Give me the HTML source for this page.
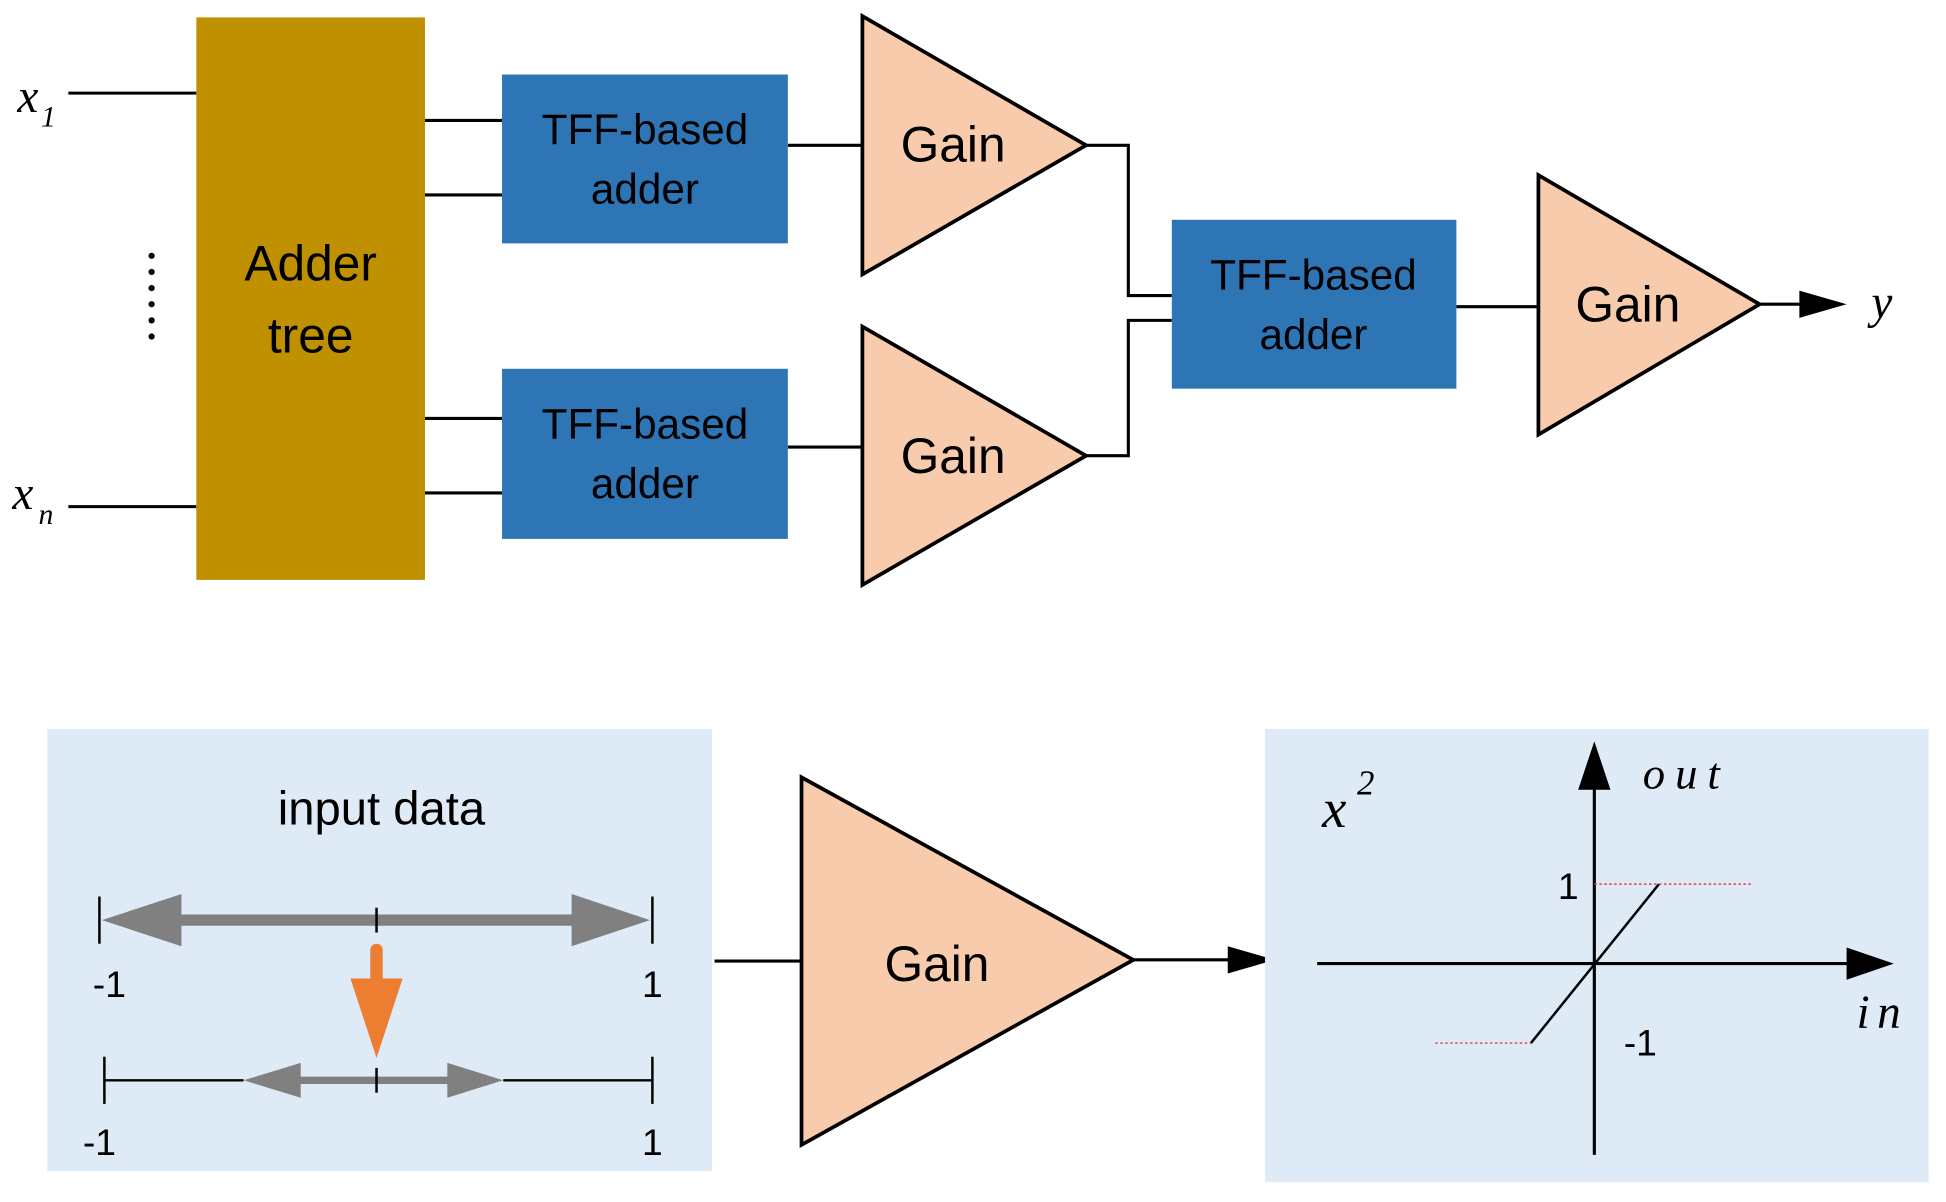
<!DOCTYPE html>
<html><head><meta charset="utf-8"><style>
html,body{margin:0;padding:0;background:#fff}
svg{display:block}
text{font-family:"Liberation Sans",sans-serif}
.s{font-family:"Liberation Serif",serif;font-style:italic}
</style></head><body>
<svg width="1946" height="1202" viewBox="0 0 1566 968" preserveAspectRatio="none" xmlns="http://www.w3.org/2000/svg">
<g stroke="#000" stroke-width="2.5" fill="none">
<line x1="55" y1="75" x2="158" y2="75"/>
<line x1="55" y1="408" x2="158" y2="408"/>
<line x1="342" y1="97" x2="404" y2="97"/>
<line x1="342" y1="157" x2="404" y2="157"/>
<line x1="342" y1="337" x2="404" y2="337"/>
<line x1="342" y1="397" x2="404" y2="397"/>
<line x1="634" y1="117" x2="694" y2="117"/>
<line x1="634" y1="360" x2="694" y2="360"/>
<polyline points="874,117 908,117 908,238 943,238"/>
<polyline points="874,367 908,367 908,258 943,258"/>
<line x1="1172" y1="247" x2="1238" y2="247"/>
<line x1="1416" y1="245" x2="1450" y2="245"/>
</g>
<polygon points="1448,234 1486,245 1448,256" fill="#000"/>
<g fill="#000">
<circle cx="122" cy="206" r="2.5"/><circle cx="122" cy="219" r="2.5"/><circle cx="122" cy="232" r="2.5"/><circle cx="122" cy="245" r="2.5"/><circle cx="122" cy="258" r="2.5"/><circle cx="122" cy="271" r="2.5"/>
</g>
<text x="14" y="90" class="s" font-size="38">x</text><text x="33" y="102" class="s" font-size="24">1</text>
<text x="10" y="410" class="s" font-size="38">x</text><text x="31" y="422" class="s" font-size="24">n</text>
<rect x="158" y="14" width="184" height="453" fill="#BF9000"/>
<text x="250" y="226" font-size="40" text-anchor="middle">Adder</text>
<text x="250" y="284" font-size="40" text-anchor="middle">tree</text>
<g fill="#2E75B6">
<rect x="404" y="60" width="230" height="136"/>
<rect x="404" y="297" width="230" height="137"/>
<rect x="943" y="177" width="229" height="136"/>
</g>
<g font-size="34" text-anchor="middle" fill="#000">
<text x="519" y="116">TFF-based</text><text x="519" y="164">adder</text>
<text x="519" y="353">TFF-based</text><text x="519" y="401">adder</text>
<text x="1057" y="233">TFF-based</text><text x="1057" y="281">adder</text>
</g>
<g fill="#F8CBAD" stroke="#000" stroke-width="3">
<polygon points="694,13 694,221 874,117"/>
<polygon points="694,263 694,471 874,367"/>
<polygon points="1238,141 1238,350 1416,245"/>
<polygon points="645,626 645,922 912,773"/>
</g>
<g font-size="40" text-anchor="middle" fill="#000">
<text x="767" y="130">Gain</text>
<text x="767" y="381">Gain</text>
<text x="1310" y="259">Gain</text>
<text x="754" y="790">Gain</text>
</g>
<text x="1506" y="256" class="s" font-size="38">y</text>
<rect x="38" y="587" width="535" height="356" fill="#DEEBF7"/>
<text x="307" y="664" font-size="38" text-anchor="middle">input data</text>
<g stroke="#808080" fill="#808080">
<line x1="130" y1="741" x2="475" y2="741" stroke-width="9"/>
<polygon points="82,741 146,720 146,762" stroke="none"/>
<polygon points="523,741 460,720 460,762" stroke="none"/>
<line x1="230" y1="870" x2="375" y2="870" stroke-width="6"/>
<polygon points="196,870 242,856 242,884" stroke="none"/>
<polygon points="405,870 360,856 360,884" stroke="none"/>
</g>
<g stroke="#000" stroke-width="2">
<line x1="80" y1="722" x2="80" y2="760"/><line x1="525" y1="722" x2="525" y2="760"/><line x1="303" y1="731" x2="303" y2="751"/>
<line x1="84" y1="870" x2="196" y2="870"/><line x1="405" y1="870" x2="525" y2="870"/>
<line x1="84" y1="851" x2="84" y2="889"/><line x1="525" y1="851" x2="525" y2="889"/><line x1="303" y1="860" x2="303" y2="880"/>
</g>
<line x1="303" y1="765" x2="303" y2="795" stroke="#ED7D31" stroke-width="10" stroke-linecap="round"/>
<polygon points="282,788 324,788 303,852" fill="#ED7D31"/>
<g font-size="30" fill="#000" text-anchor="middle">
<text x="88" y="803">-1</text><text x="525" y="803">1</text>
<text x="80" y="930">-1</text><text x="525" y="930">1</text>
</g>
<line x1="575" y1="774" x2="645" y2="774" stroke="#000" stroke-width="2.5"/>
<line x1="912" y1="773" x2="990" y2="773" stroke="#000" stroke-width="2.5"/>
<polygon points="988,762 1026,773 988,784" fill="#000"/>
<rect x="1018" y="587" width="534" height="365" fill="#DEEBF7"/>
<text x="1064" y="666" class="s" font-size="44">x</text><text x="1092" y="640" class="s" font-size="28">2</text>
<g stroke="#000" stroke-width="2.5">
<line x1="1283" y1="930" x2="1283" y2="630"/>
<line x1="1060" y1="776" x2="1490" y2="776"/>
<line x1="1232" y1="840" x2="1335" y2="712" stroke-width="2"/>
</g>
<polygon points="1270,636 1283,597 1296,636" fill="#000"/>
<polygon points="1486,763 1524,776 1486,789" fill="#000"/>
<g stroke="#e04040" stroke-width="1.2" stroke-dasharray="2,2">
<line x1="1283" y1="712" x2="1410" y2="712"/>
<line x1="1155" y1="840" x2="1232" y2="840"/>
</g>
<text x="1322" y="635" class="s" font-size="36" letter-spacing="8">out</text>
<text x="1494" y="828" class="s" font-size="38" letter-spacing="6">in</text>
<text x="1262" y="724" font-size="30" text-anchor="middle">1</text>
<text x="1320" y="850" font-size="30" text-anchor="middle">-1</text>
</svg>
</body></html>
